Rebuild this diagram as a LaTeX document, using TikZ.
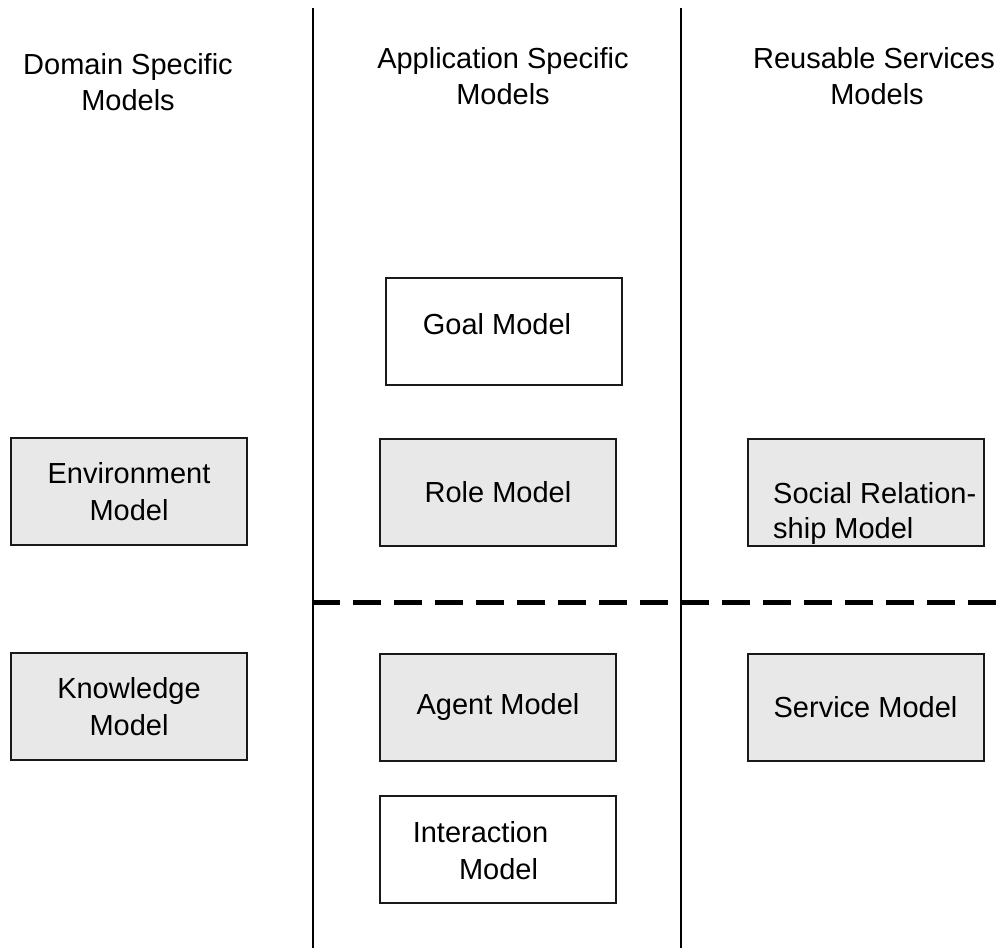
\documentclass[tikz,border=0pt]{standalone}
\usepackage{fontspec}
\setmainfont{Liberation Sans}
\definecolor{boxgrey}{HTML}{E8E8E8}
\newcommand\bodyfont{\fontsize{29}{36.5}\selectfont}
\begin{document}
\begin{tikzpicture}[x=1pt,y=-1pt,
  box/.style={draw=black!90, line width=2pt, minimum width=236pt,
    minimum height=107pt, inner sep=0pt, align=center, font=\bodyfont},
  greybox/.style={box, fill=boxgrey},
  txt/.style={inner sep=0pt, anchor=base, font=\bodyfont},
  lane/.style={line width=2pt},
  split/.style={line width=5pt, dash pattern=on 28pt off 13pt}]
\useasboundingbox (0,0) rectangle (1003,948);

% column separators
\coordinate (laneAtop) at (313,8);
\coordinate (laneAbot) at (313,948);
\coordinate (laneBtop) at (681,8);
\coordinate (laneBbot) at (681,948);
\draw[lane] (laneAtop) -- (laneAbot);
\draw[lane] (laneBtop) -- (laneBbot);

% horizontal split
\coordinate (splitL) at (312,602);
\coordinate (splitR) at (1003,602);
\draw[split] (splitL) -- (splitR);

% column headers
\node[txt] (hdA1) at (128,74) {Domain Specific};
\node[txt] (hdA2) at (128,110) {Models};
\node[txt] (hdB1) at (503,68) {Application Specific};
\node[txt] (hdB2) at (503,104) {Models};
\node[txt] (hdC1) at (874,68) {Reusable Services};
\node[txt] (hdC2) at (877,104) {Models};

% model boxes
\node[box] (goal) at (503.5,331.5) {};
\node[txt] (goaltxt) at (497,334) {Goal Model};

\node[greybox] (env) at (129,491.5) {Environment\\Model};
\node[greybox] (role) at (498,492) {Role Model};
\node[greybox] (social) at (865.5,492) {};
\node[txt, anchor=base west] (socialA) at (773,503) {Social Relation-};
\node[txt, anchor=base west] (socialB) at (773,538) {ship Model};

\node[greybox] (know) at (129,706.5) {Knowledge\\Model};
\node[greybox] (agent) at (498,707) {Agent Model};
\node[greybox] (service) at (865.5,707) {Service Model};

\node[box] (inter) at (498,849) {};
\node[txt] (interA) at (480.5,842) {Interaction};
\node[txt] (interB) at (498.5,879) {Model};
\end{tikzpicture}
\end{document}
